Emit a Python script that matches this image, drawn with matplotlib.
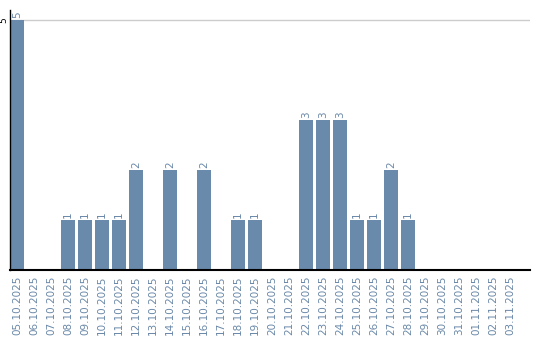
import matplotlib
matplotlib.use("Agg")
import matplotlib.pyplot as plt

dates = ["05.10.2025", "06.10.2025", "07.10.2025", "08.10.2025", "09.10.2025",
         "10.10.2025", "11.10.2025", "12.10.2025", "13.10.2025", "14.10.2025",
         "15.10.2025", "16.10.2025", "17.10.2025", "18.10.2025", "19.10.2025",
         "20.10.2025", "21.10.2025", "22.10.2025", "23.10.2025", "24.10.2025",
         "25.10.2025", "26.10.2025", "27.10.2025", "28.10.2025", "29.10.2025",
         "30.10.2025", "31.10.2025", "01.11.2025", "02.11.2025", "03.11.2025"]
counts = [5, 0, 0, 1, 1, 1, 1, 2, 0, 2, 0, 2, 0, 1, 1,
          0, 0, 3, 3, 3, 1, 1, 2, 1, 0, 0, 0, 0, 0, 0]

BAR = "#6a8aab"
TXT = "#6a88a8"

fig = plt.figure(figsize=(5.4, 3.4), dpi=100)
ax = fig.add_axes([10/540, 70/340, 520/540, 260/340])

x = list(range(len(dates)))
ax.bar(x, counts, width=0.82, color=BAR, zorder=2)
for i, v in enumerate(counts):
    if v > 0:
        ax.text(i, v + 0.05, str(v), rotation=90, ha="center", va="bottom",
                fontsize=7.5, color=TXT)

ax.set_xlim(-0.41, 30.18)
ax.set_ylim(0, 5.2)
ax.set_xticks(x)
ax.set_xticklabels(dates, rotation=90, fontsize=7.5, color=TXT)
ax.set_yticks([5])
ax.set_yticklabels(["5"], rotation=90, fontsize=6.5, va="center")
ax.tick_params(axis="x", length=0, pad=4)
ax.tick_params(axis="y", length=0, pad=1)
ax.axhline(5, color="#cccccc", lw=1, zorder=1)

for s in ["top", "right"]:
    ax.spines[s].set_visible(False)
ax.spines["bottom"].set_linewidth(1.5)
ax.spines["left"].set_linewidth(1)

fig.savefig("out.png", dpi=100)
